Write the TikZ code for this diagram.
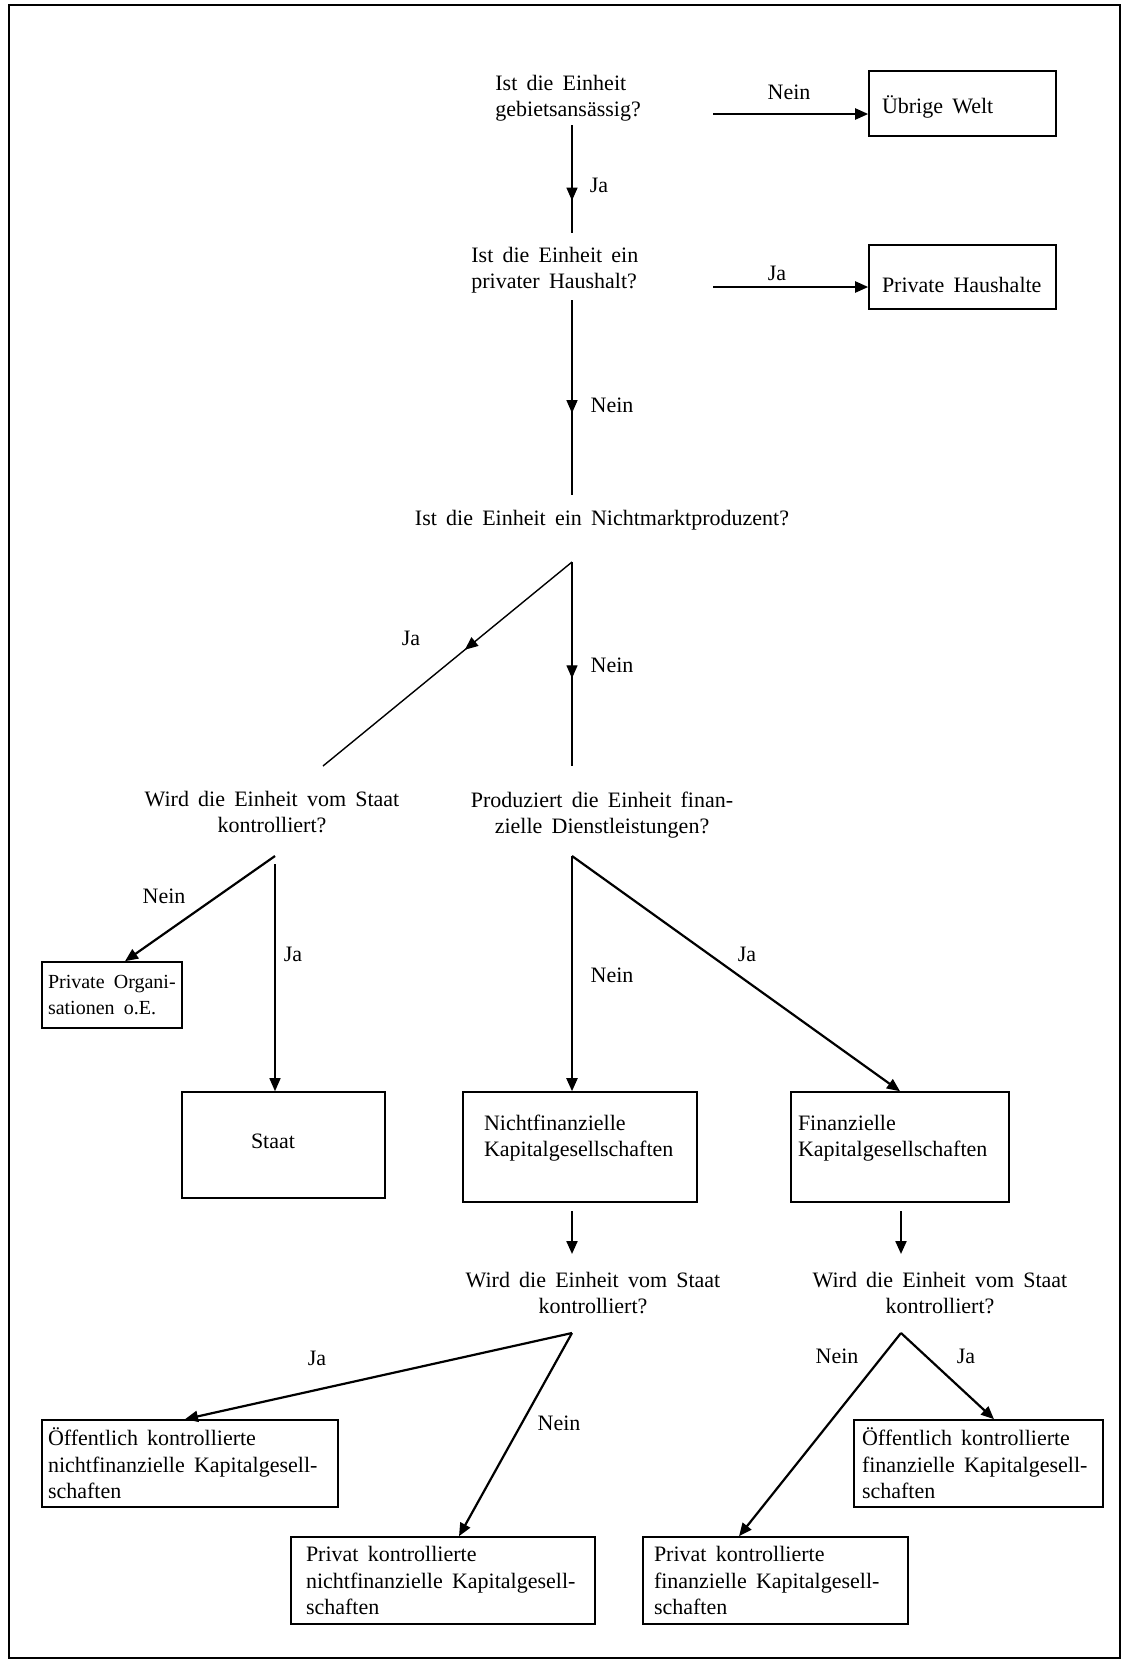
\documentclass[tikz,border=0pt]{standalone}
\usepackage{fontspec}
\setmainfont{Liberation Serif}
\usetikzlibrary{arrows.meta,decorations.markings}
\begin{document}
\begin{tikzpicture}[x=0.5pt,y=-0.5pt,
  every node/.style={font=\fontsize{11pt}{13.25pt}\selectfont, inner sep=0pt,
    execute at begin node={\spaceskip=4.6pt plus 1pt minus 0.5pt\relax\hyphenpenalty=10000\relax}},
  smallfont/.style={font=\fontsize{10pt}{13.25pt}\selectfont},
  qleft/.style={align=left},
  qcent/.style={align=center},
  box/.style={draw, line width=0.8pt, align=left, inner ysep=0pt},
  lnthin/.style={line width=0.7pt},
  lnthick/.style={line width=1.1pt},
  tip/.style={-{Triangle[length=6.5pt,width=5.5pt]}},
  midarrow/.style={postaction={decorate}, decoration={markings, mark=at position #1 with {\arrow{Triangle[length=6.5pt,width=5.5pt]}}}}
]
\useasboundingbox (0,0) rectangle (1138,1662);
\draw[line width=1pt] (8.5,5.3) rectangle (1120,1658);

% questions
\node[qleft, anchor=west] (q1) at (495,98) {Ist die Einheit\\gebietsansässig?};
\node[qleft, anchor=west] (q2) at (471,270) {Ist die Einheit ein\\privater Haushalt?};
\node (q3) at (602,520) {Ist die Einheit ein Nichtmarktproduzent?};
\node[qcent] (q4) at (272,812) {Wird die Einheit vom Staat\\kontrolliert?};
\node[qcent] (q5) at (602,815) {Produziert die Einheit finan-\\zielle Dienstleistungen?};
\node[qcent] (q6) at (593,1293) {Wird die Einheit vom Staat\\kontrolliert?};
\node[qcent] (q7) at (940,1293) {Wird die Einheit vom Staat\\kontrolliert?};

% boxes
\node[box, minimum width=93.5pt, minimum height=32.5pt, text width=80.5pt, inner xsep=6.5pt] (welt) at (962.5,103.5) {\raisebox{-1.5pt}[\height][\depth]{Übrige Welt}};
\node[box, minimum width=93.5pt, minimum height=32pt, text width=80.5pt, inner xsep=6.5pt] (haus) at (962.5,277) {\raisebox{-3.75pt}[\height][\depth]{Private Haushalte}};
\node[box, smallfont, minimum width=70pt, minimum height=33pt, text width=64pt, inner xsep=3pt] (porg) at (112,995) {Private~Organi-\\sationen~o.E.};
\node[box, minimum width=101.5pt, minimum height=53pt, text width=32.5pt, inner xsep=34.5pt] (staat) at (283.5,1145) {\raisebox{2pt}[\height][\depth]{Staat}};
\node[box, minimum width=117pt, minimum height=55pt, text width=96pt, inner xsep=10.5pt] (nfin) at (580,1147) {Nichtfinanzielle\\Kapitalgesellschaften\\[-2pt]\mbox{}};
\node[box, minimum width=109pt, minimum height=55pt, text width=102pt, inner xsep=3.5pt] (fin) at (900,1147) {Finanzielle\\Kapitalgesellschaften\\[-2pt]\mbox{}};
\node[box, minimum width=148pt, minimum height=43.5pt, text width=142pt, inner xsep=3pt] (oenf) at (190,1463.5) {Öffentlich~kontrollierte\\nichtfinanzielle~Kapitalgesell-\\schaften};
\node[box, minimum width=152pt, minimum height=43.5pt, text width=137pt, inner xsep=7.5pt] (prnf) at (443,1580.5) {Privat~kontrollierte\\nichtfinanzielle~Kapitalgesell-\\schaften};
\node[box, minimum width=124.5pt, minimum height=43.5pt, text width=116.5pt, inner xsep=4pt] (oef) at (978.5,1463.5) {Öffentlich~kontrollierte\\finanzielle~Kapitalgesell-\\schaften};
\node[box, minimum width=132.5pt, minimum height=43.5pt, text width=121.5pt, inner xsep=5.5pt] (prf) at (775.5,1580.5) {Privat~kontrollierte\\finanzielle~Kapitalgesell-\\schaften};

% junction coordinates
\coordinate (c1a) at (572,125);
\coordinate (c1b) at (572,233);
\coordinate (n1) at (713,114);
\coordinate (j2) at (713,287);
\coordinate (c2a) at (572,300);
\coordinate (c2b) at (572,495);
\coordinate (ap3) at (572,562);
\coordinate (e3l) at (323,766);
\coordinate (e3r) at (572,766);
\coordinate (ap4) at (275,856);
\coordinate (ap4b) at (275,864);
\coordinate (ap5) at (572,856);
\coordinate (s6a) at (572,1211);
\coordinate (s6b) at (572,1254);
\coordinate (s7a) at (901,1211);
\coordinate (s7b) at (901,1254);
\coordinate (ap6) at (572,1333);
\coordinate (ap7) at (901,1333);

% connectors
\draw[lnthin, midarrow=0.70] (c1a) -- (c1b);
\draw[lnthick, tip] (n1) -- (n1 -| welt.west);
\draw[lnthick, tip] (j2) -- (j2 -| haus.west);
\draw[lnthin, midarrow=0.58] (c2a) -- (c2b);
\draw[lnthin, midarrow=0.43] (ap3) -- (e3l);
\draw[lnthin, midarrow=0.57] (ap3) -- (e3r);
\draw[lnthick, tip] (ap4) -- ([xshift=6.5pt]porg.north);
\draw[lnthin, tip] (ap4b) -- (ap4b |- staat.north);
\draw[lnthick, tip] (ap5) -- (ap5 |- nfin.north);
\draw[lnthick, tip] (ap5) -- (fin.north);
\draw[lnthick, tip] (s6a) -- (s6b);
\draw[lnthick, tip] (s7a) -- (s7b);
\draw[lnthick, tip] (ap6) -- ([xshift=-2.5pt]oenf.north);
\draw[lnthick, tip] (ap6) -- ([xshift=8pt]prnf.north);
\draw[lnthick, tip] (ap7) -- ([xshift=7.75pt]oef.north);
\draw[lnthick, tip] (ap7) -- ([xshift=-18.25pt]prf.north);

% labels
\node (l1) at (789,92) {Nein};
\node (l2) at (599,185) {Ja};
\node (l3) at (777,273) {Ja};
\node (l4) at (612,405) {Nein};
\node (l5) at (411,638) {Ja};
\node (l6) at (612,665) {Nein};
\node (l7) at (164,896) {Nein};
\node (l8) at (293,954) {Ja};
\node (l9) at (612,975) {Nein};
\node (l10) at (747,954) {Ja};
\node (l11) at (317,1358) {Ja};
\node (l12) at (559,1423) {Nein};
\node (l13) at (837,1356) {Nein};
\node (l14) at (966,1356) {Ja};
\end{tikzpicture}
\end{document}
